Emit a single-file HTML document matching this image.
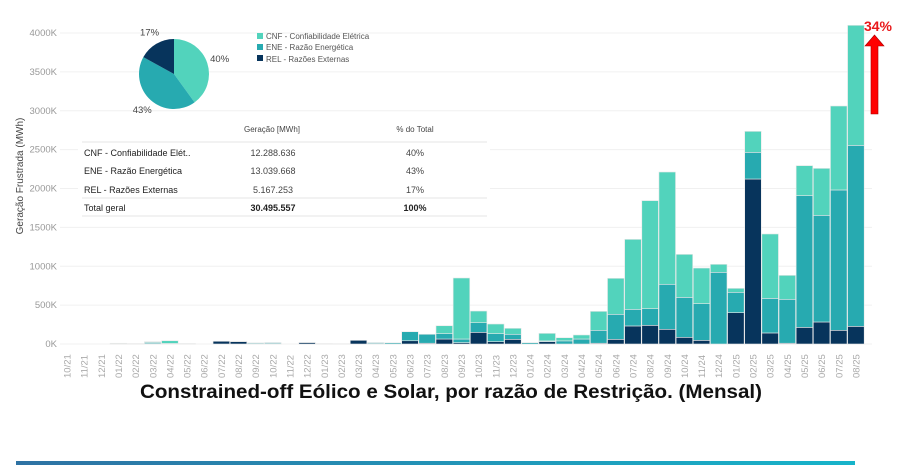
<!DOCTYPE html>
<html><head><meta charset="utf-8"><style>
body{margin:0;background:#fff;width:908px;height:465px;overflow:hidden;font-family:"Liberation Sans",sans-serif}
</style></head><body>
<svg id="chart" width="908" height="465" xmlns="http://www.w3.org/2000/svg" font-family="Liberation Sans, sans-serif">
<defs><linearGradient id="bg" x1="0" x2="1"><stop offset="0" stop-color="#2e72a3"/><stop offset="1" stop-color="#17b4ca"/></linearGradient></defs>
<g id="grid"></g><g id="bars"></g><g id="xlab"></g>
<text transform="translate(23,176) rotate(-90)" text-anchor="middle" font-size="10" fill="#444">Geração Frustrada (MWh)</text>
<rect x="78" y="115" width="412" height="103" fill="#fff"/>
<g id="pie"></g>
<g font-size="8" fill="#555">
<rect x="257" y="33" width="6" height="6" fill="#52d3bc"/><text x="266" y="39">CNF - Confiabilidade Elétrica</text>
<rect x="257" y="44" width="6" height="6" fill="#27aab0"/><text x="266" y="50">ENE - Razão Energética</text>
<rect x="257" y="55" width="6" height="6" fill="#07345c"/><text x="266" y="62">REL - Razões Externas</text>
</g>
<g font-size="9" fill="#222">
<text x="272" y="132" text-anchor="middle" font-size="8" fill="#444">Geração [MWh]</text>
<text x="415" y="132" text-anchor="middle" font-size="8" fill="#444">% do Total</text>
<line x1="82" y1="142" x2="487" y2="142" stroke="#e6e6e6"/>
<text x="84" y="156">CNF - Confiabilidade Elét..</text><text x="273" y="156" text-anchor="middle" fill="#444">12.288.636</text><text x="415" y="156" text-anchor="middle" fill="#444">40%</text>
<text x="84" y="174">ENE - Razão Energética</text><text x="273" y="174" text-anchor="middle" fill="#444">13.039.668</text><text x="415" y="174" text-anchor="middle" fill="#444">43%</text>
<text x="84" y="193">REL - Razões Externas</text><text x="273" y="193" text-anchor="middle" fill="#444">5.167.253</text><text x="415" y="193" text-anchor="middle" fill="#444">17%</text>
<line x1="82" y1="198" x2="487" y2="198" stroke="#e6e6e6"/>
<text x="84" y="211">Total geral</text><text x="273" y="211" text-anchor="middle" font-weight="bold">30.495.557</text><text x="415" y="211" text-anchor="middle" font-weight="bold">100%</text>
<line x1="82" y1="216" x2="487" y2="216" stroke="#e6e6e6"/>
</g>
<g>
<polygon points="871,114 878,114 878,46 884,46 874.5,35 865,46 871,46" fill="#f00" stroke="#a00" stroke-width="0.6"/>
<text x="878" y="31" text-anchor="middle" font-size="14" font-weight="bold" fill="#e8191b">34%</text>
</g>
<text x="451" y="398" text-anchor="middle" font-size="19" font-weight="bold" fill="#111" textLength="622" lengthAdjust="spacingAndGlyphs">Constrained-off Eólico e Solar, por razão de Restrição. (Mensal)</text>
<rect x="16" y="461" width="839" height="4" fill="url(#bg)"/>
</svg>
<script>
const months=["10/21","11/21","12/21","01/22","02/22","03/22","04/22","05/22","06/22","07/22","08/22","09/22","10/22","11/22","12/22","01/23","02/23","03/23","04/23","05/23","06/23","07/23","08/23","09/23","10/23","11/23","12/23","01/24","02/24","03/24","04/24","05/24","06/24","07/24","08/24","09/24","10/24","11/24","12/24","01/25","02/25","03/25","04/25","05/25","06/25","07/25","08/25"];
const rel=[0,0,0,0,2,5,0,2,0,35,30,5,6,0,18,2,1,47,6,0,42,10,64,17,150,30,60,0,30,0,0,10,60,232,240,189,86,47,0,403,2122,142,10,214,283,176,227];
const ene=[0,0,0,2,3,15,7,2,0,0,5,10,12,0,0,3,1,0,12,15,116,115,69,47,124,103,65,17,10,40,64,166,322,214,214,579,514,472,922,262,343,445,565,1694,1372,1805,2328];
const cnf=[0,0,0,8,0,10,35,1,0,0,0,0,0,0,0,0,0,0,0,0,0,0,102,785,150,124,77,0,97,41,52,244,463,900,1390,1444,553,458,103,51,270,828,308,386,604,1080,1544];
const yTicks=[0,500,1000,1500,2000,2500,3000,3500,4000];
const pieVals=[40,43,17];
const pieLabels=["40%","43%","17%"];
const colors={rel:"#07345c",ene:"#27aab0",cnf:"#52d3bc"};
const NS="http://www.w3.org/2000/svg";
const y0=344, pxPerK=311/4000;
const yS=v=>y0-v*pxPerK;
const x0=67, step=17.15, bw=16.6;
const xS=i=>x0+i*step;
function mk(t,a,p){const e=document.createElementNS(NS,t);for(const k in a)e.setAttribute(k,a[k]);p.appendChild(e);return e;}
const grid=document.getElementById('grid');
yTicks.forEach(t=>{
  const l=mk('line',{x1:60,x2:872,y1:yS(t),y2:yS(t),stroke:'#f0f0f0'},grid);
  
  
  const tx=mk('text',{x:57,y:yS(t)+3,'text-anchor':'end','font-size':9.5,fill:'#999'},grid);
  tx.textContent=t+'K';
  
  
});
const bars=document.getElementById('bars');
months.forEach((m,i)=>{
  let base=0;
  [['rel',rel[i]],['ene',ene[i]],['cnf',cnf[i]]].forEach(([k,v])=>{
    if(v<=0)return;
    const r=mk('rect',{x:xS(i)-bw/2,y:yS(base+v),width:bw,height:v*pxPerK,fill:colors[k],stroke:'#e8e8e8','stroke-width':0.6},bars);
    
    
    base+=v;
  });
  const t=mk('text',{transform:`translate(${xS(i)+3.5},378) rotate(-90)`,'font-size':9.5,fill:'#aaa'},document.getElementById('xlab'));
  t.textContent=m;
  
  
});
const pie=document.getElementById('pie');
const cx=174,cy=74,r=35;const pc=[colors.cnf,colors.ene,colors.rel];
let a0=0;const tot=pieVals.reduce((a,b)=>a+b,0);
pieVals.forEach((v,i)=>{
  const a1=a0+v/tot*2*Math.PI;
  const p=(a)=>[cx+r*Math.sin(a),cy-r*Math.cos(a)];
  const [x1,y1]=p(a0),[x2,y2]=p(a1);
  const s=mk('path',{d:`M${cx},${cy}L${x1},${y1}A${r},${r} 0 ${a1-a0>Math.PI?1:0} 1 ${x2},${y2}Z`,fill:pc[i]},pie);
  
  
  const am=(a0+a1)/2;
  const lx=cx+(r+13)*Math.sin(am),ly=cy-(r+13)*Math.cos(am)+3;
  const t=mk('text',{x:lx,y:ly,'text-anchor':'middle','font-size':9.5,fill:'#444'},pie);
  t.textContent=pieLabels[i];
  
  
  a0=a1;
});
</script>
</body></html>
